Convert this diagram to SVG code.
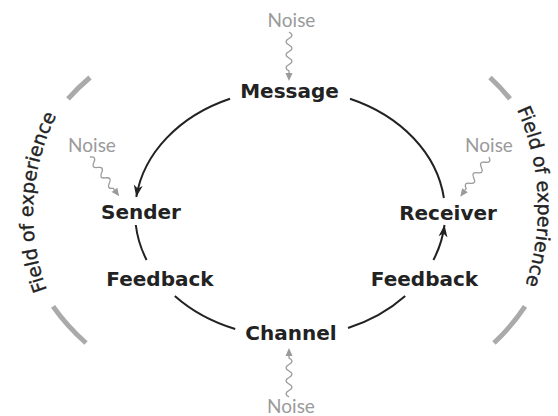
<svg xmlns="http://www.w3.org/2000/svg" xmlns:xlink="http://www.w3.org/1999/xlink" width="558" height="416" viewBox="0 0 558 416">
  <style>
    .lbl { font-family: "DejaVu Sans", "Liberation Sans", sans-serif; font-weight: bold; font-size: 20px; fill: #222; text-anchor: middle; }
    .noise { font-family: "Lato", "Liberation Sans", sans-serif; font-size: 19px; fill: #9a9a9a; text-anchor: middle; }
    .field { font-family: "DejaVu Sans", "Liberation Sans", sans-serif; font-size: 19px; fill: #222; stroke: #222; stroke-width: 0.35; }
    .arc { fill: none; stroke: #222; stroke-width: 2; }
    .wave { fill: none; stroke: #9a9a9a; stroke-width: 1.3; marker-end: url(#grayArrow); }
    .fieldArc { fill: none; stroke: #aaaaaa; stroke-width: 5; }
  </style>
  <defs>
    <marker id="blackArrow" viewBox="-13 -6 14 12" refX="0" refY="0" markerWidth="14" markerHeight="12" markerUnits="userSpaceOnUse" orient="auto">
      <path d="M0,0 L-12,-4.5 L-8.5,0 L-12,4.5 Z" fill="#222"/>
    </marker>
    <marker id="grayArrow" viewBox="-1 -4 9 8" refX="0" refY="0" markerWidth="9" markerHeight="8" markerUnits="userSpaceOnUse" orient="auto">
      <path d="M0,-3.5 L8,0 L0,3.5 Z" fill="#9a9a9a"/>
    </marker>
    <path id="fieldPathL" d="M128.7,393.4 A217,217 0 0 1 154.9,18.5"/>
    <path id="fieldPathR" d="M379.4,-18.5 A241,241 0 0 1 417.5,416.7"/>
  </defs>

  <g id="field-left">
    <path class="fieldArc" d="M90,77.5 A268,202 0 0 0 68,98.8"/>
    <path class="fieldArc" d="M53,306.4 A268,202 0 0 0 86,343"/>
    <text class="field"><textPath xlink:href="#fieldPathL" href="#fieldPathL" startOffset="134">Field of experience</textPath></text>
  </g>
  <g id="field-right">
    <path class="fieldArc" d="M490,77.5 A268,202 0 0 1 510,98.8"/>
    <path class="fieldArc" d="M525,306.4 A268,202 0 0 1 494,343"/>
    <text class="field"><textPath xlink:href="#fieldPathR" href="#fieldPathR" startOffset="193">Field of experience</textPath></text>
  </g>

  <g id="connectors">
    <path class="arc" d="M230,98.7 A155,124 0 0 0 136.3,197" marker-end="url(#blackArrow)"/>
    <path class="arc" d="M135.8,225 A155,124 0 0 0 146.6,260"/>
    <path class="arc" d="M174.8,296 A155,124 0 0 0 235.2,329"/>
    <path class="arc" d="M348,328 A155,124 0 0 0 405.2,296"/>
    <path class="arc" d="M433.4,260 A155,124 0 0 0 444.5,225" marker-end="url(#blackArrow)"/>
    <path class="arc" d="M350,98.7 A155,124 0 0 1 443.9,198"/>
    <path class="wave" transform="translate(289,32)" d="M0,0 q6,3.25 0,6.5 t0,6.5 t0,6.5 t0,6.5 t0,6.5 t0,6.5 l0,2"/>
    <path class="wave" transform="translate(289,397) rotate(180)" d="M0,0 q6,3.25 0,6.5 t0,6.5 t0,6.5 t0,6.5 t0,6.5 t0,6.5 l0,2"/>
    <path class="wave" transform="translate(90,157) rotate(-36.6)" d="M0,0 q6,3.25 0,6.5 t0,6.5 t0,6.5 t0,6.5 t0,6.5 t0,6.5 l0,2"/>
    <path class="wave" transform="translate(489,157) rotate(35.9)" d="M0,0 q6,3.25 0,6.5 t0,6.5 t0,6.5 t0,6.5 t0,6.5 t0,6.5 l0,2"/>
  </g>

  <g id="message"><text class="lbl" x="289.5" y="98">Message</text></g>
  <g id="sender"><text class="lbl" x="141" y="219">Sender</text></g>
  <g id="receiver"><text class="lbl" x="448" y="220">Receiver</text></g>
  <g id="feedback-left"><text class="lbl" x="160" y="286">Feedback</text></g>
  <g id="feedback-right"><text class="lbl" x="424.5" y="286">Feedback</text></g>
  <g id="channel"><text class="lbl" x="291" y="340">Channel</text></g>

  <g id="noise-top"><text class="noise" x="291.5" y="27">Noise</text></g>
  <g id="noise-bottom"><text class="noise" x="291" y="413">Noise</text></g>
  <g id="noise-left"><text class="noise" x="92" y="152">Noise</text></g>
  <g id="noise-right"><text class="noise" x="489" y="152">Noise</text></g>
</svg>
